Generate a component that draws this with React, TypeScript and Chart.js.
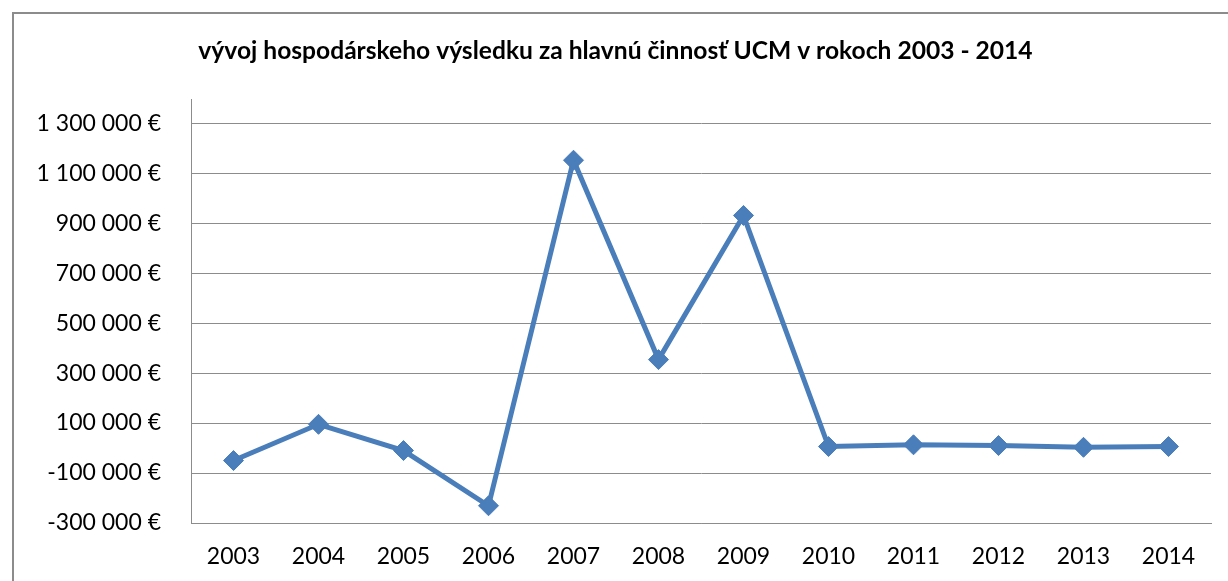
import React, { useEffect, useRef } from "react";
import { Chart, registerables } from "chart.js";

Chart.register(...registerables);

const TITLE = "vývoj hospodárskeho výsledku za hlavnú činnosť UCM v rokoch 2003 - 2014";
const years = ["2003", "2004", "2005", "2006", "2007", "2008", "2009", "2010", "2011", "2012", "2013", "2014"];
const results = [-50000, 95000, -10000, -231000, 1152000, 354000, 931000, 6000, 13000, 10000, 3000, 6000];
const yTickValues = [-300000, -100000, 100000, 300000, 500000, 700000, 900000, 1100000, 1300000];
const yMin = -300000;
const yMax = 1395000;

const fmtEuro = (v: number) => {
  const sign = v < 0 ? "-" : "";
  const s = Math.abs(v).toString().replace(/\B(?=(\d{3})+(?!\d))/g, " ");
  return sign + s + " €";
};

const framePlugin = {
  id: "frame",
  beforeDraw(chart: any) {
    const ctx = chart.ctx;
    ctx.save();
    ctx.fillStyle = "#ffffff";
    ctx.fillRect(0, 0, chart.width, chart.height);
    ctx.strokeStyle = "#8c8c8c";
    ctx.lineWidth = 2;
    ctx.beginPath();
    ctx.moveTo(13, chart.height);
    ctx.lineTo(13, 13);
    ctx.lineTo(chart.width, 13);
    ctx.stroke();
    ctx.restore();
  },
};

export default function App() {
  const ref = useRef<HTMLCanvasElement>(null);
  useEffect(() => {
    if (!ref.current) return;
    const chart = new Chart(ref.current, {
      type: "line",
      data: {
        labels: years,
        datasets: [
          {
            data: results,
            borderColor: "#4a7ebb",
            backgroundColor: "#4a7ebb",
            borderWidth: 5,
            pointStyle: "rectRot",
            pointRadius: 10,
            pointBorderWidth: 1,
            pointBackgroundColor: "#4a7ebb",
            pointBorderColor: "#4a7ebb",
            tension: 0,
          },
        ],
      },
      options: {
        animation: false,
        responsive: false,
        layout: { padding: { left: 20, right: 17, top: 0, bottom: 0 } },
        plugins: {
          legend: { display: false },
          tooltip: { enabled: false },
          title: {
            display: true,
            text: TITLE,
            color: "#000000",
            font: { family: "Lato", size: 24.6, weight: "bold", lineHeight: 1.2 },
            padding: { top: 36, bottom: 34 },
          },
        },
        scales: {
          x: {
            offset: true,
            grid: { display: false, drawTicks: false },
            border: { color: "#8c8c8c", width: 1 },
            ticks: {
              color: "#000000",
              font: { family: "Lato", size: 23 },
              padding: 20,
              maxRotation: 0,
            },
            afterFit: (s: any) => {
              s.height = 58;
            },
          },
          y: {
            min: yMin,
            max: yMax,
            grid: { color: "#8c8c8c", lineWidth: 1, drawTicks: false },
            border: { color: "#8c8c8c", width: 1 },
            ticks: {
              color: "#000000",
              font: { family: "Lato", size: 23 },
              padding: 30,
              callback: (v: any) => fmtEuro(Number(v)),
            },
            afterBuildTicks: (s: any) => {
              s.ticks = yTickValues.map((v) => ({ value: v }));
            },
            afterFit: (s: any) => {
              s.width = 171;
            },
          },
        },
      },
      plugins: [framePlugin],
    });
    return () => chart.destroy();
  }, []);
  return (
    <div style={{ position: "fixed", left: 0, top: 0, width: 1228, height: 581, background: "#fff" }}>
      <canvas ref={ref} width={1228} height={581} style={{ display: "block" }} />
    </div>
  );
}
